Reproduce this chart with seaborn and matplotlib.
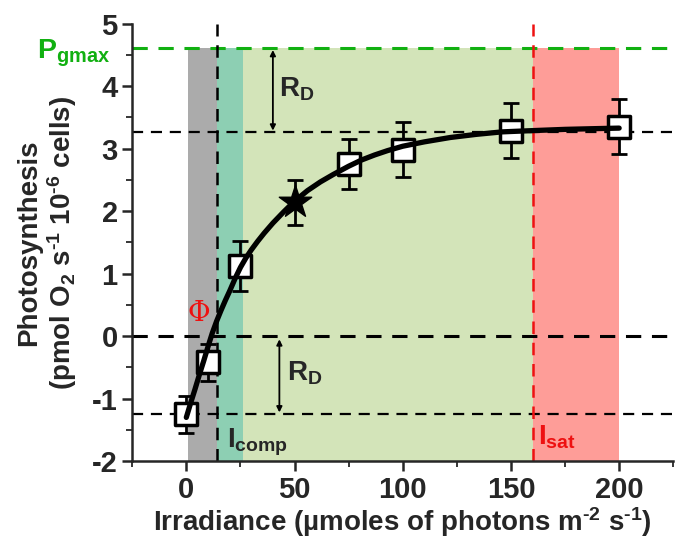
import numpy as np
import pandas as pd
import matplotlib
matplotlib.use('Agg')
import matplotlib.pyplot as plt
import seaborn as sns

# measured points (irradiance, photosynthesis, error)
irr = [0, 10, 25, 75, 100, 150, 200]
photo = [-1.25, -0.42, 1.12, 2.75, 2.98, 3.29, 3.35]
err = [0.30, 0.30, 0.40, 0.40, 0.44, 0.44, 0.44]

# star point at 50
star_irr = [50]
star_photo = [2.14]
star_err = [0.36]

# fitted curve
curve_x = [0, 2, 4, 6, 8, 10, 12, 14, 16, 18, 20, 22.5, 25, 27.5, 30, 33, 36, 40,
           45, 50, 56, 62, 68, 75, 81, 87, 93, 100, 110, 122, 134, 146, 160, 175,
           187, 200]
curve_y = [-1.30, -1.07, -0.85, -0.62, -0.40, -0.17, 0.05, 0.24, 0.41, 0.57, 0.72,
           0.92, 1.10, 1.25, 1.38, 1.52, 1.65, 1.81, 1.99, 2.16, 2.33, 2.47, 2.59,
           2.72, 2.82, 2.90, 2.97, 3.04, 3.11, 3.18, 3.23, 3.27, 3.29, 3.31, 3.32,
           3.33]

# reference levels
pgmax = 4.62
p_sat = 3.27
rd_low = -1.24
i_comp = 14
i_sat = 160

# shaded regions (start, end, colour)
span_edges = [1, 14, 26, 160, 200]
span_colors = ['#ababab', '#8dcfb3', '#d3e4b9', '#fe9d98']

sns.set_style('ticks')
plt.rcParams['font.family'] = ['Liberation Sans', 'DejaVu Sans']
plt.rcParams['font.weight'] = 'bold'
plt.rcParams['axes.unicode_minus'] = False
plt.rcParams['mathtext.fontset'] = 'custom'
plt.rcParams['mathtext.rm'] = 'Liberation Sans:bold'
plt.rcParams['mathtext.bf'] = 'Liberation Sans:bold'
plt.rcParams['mathtext.it'] = 'Liberation Sans:bold'
plt.rcParams['mathtext.default'] = 'regular'

fig = plt.figure(figsize=(6.78, 5.4), dpi=100)
ax = fig.add_axes([0.195, 0.146, 0.798, 0.81])

# background bands
for i in range(len(span_colors)):
    ax.fill_between([span_edges[i], span_edges[i + 1]], -2, pgmax,
                    color=span_colors[i], lw=0, zorder=0)

# dashed guide lines
dash = (0, (5, 3.5))
ax.axhline(pgmax, color='#11b011', ls=dash, lw=2.2, zorder=1)
ax.axhline(p_sat, color='black', ls=dash, lw=1.6, zorder=1)
ax.axhline(0, color='black', ls=dash, lw=2.2, zorder=1)
ax.axhline(rd_low, color='black', ls=dash, lw=1.6, zorder=1)
ax.axvline(i_comp, color='black', ls=dash, lw=1.8, zorder=1)
ax.axvline(i_sat, color='#ee1111', ls=dash, lw=1.8, zorder=1)

# error bars + markers
ax.errorbar(irr, photo, yerr=err, fmt='none', ecolor='black', elinewidth=2,
            capsize=6, capthick=2, zorder=3)
ax.errorbar(star_irr, star_photo, yerr=star_err, fmt='none', ecolor='black',
            elinewidth=2, capsize=6, capthick=2, zorder=3)
pts = pd.DataFrame({'x': irr, 'y': photo})
sns.scatterplot(data=pts, x='x', y='y', ax=ax, marker='s', s=260,
                facecolor='white', edgecolor='black', linewidth=2.5, zorder=4)
ax.scatter(star_irr, star_photo, marker='*', s=600, color='black', zorder=4)

# fitted curve on top of markers
curve = pd.DataFrame({'x': curve_x, 'y': curve_y})
sns.lineplot(data=curve, x='x', y='y', ax=ax, color='black', lw=3.8, zorder=5)

# RD arrows
ax.annotate('', xy=(40, pgmax - 0.04), xytext=(40, p_sat + 0.02),
            arrowprops=dict(arrowstyle='<|-|>', color='black', lw=1.3,
                            mutation_scale=8, shrinkA=0, shrinkB=0))
ax.annotate('', xy=(43, -0.05), xytext=(43, rd_low + 0.02),
            arrowprops=dict(arrowstyle='<|-|>', color='black', lw=1.3,
                            mutation_scale=8, shrinkA=0, shrinkB=0))
ax.text(43, 3.95, r'$\mathregular{R_D}$', fontsize=20, va='center', ha='left')
ax.text(46.5, -0.6, r'$\mathregular{R_D}$', fontsize=20, va='center', ha='left')

# annotations
ax.text(6, 0.36, 'Φ', color='#ee1111', fontsize=20, family='DejaVu Serif',
        fontweight='normal', ha='center', va='center')
ax.text(19, -1.7, r'$\mathregular{I_{comp}}$', fontsize=20, va='center', ha='left')
ax.text(162.5, -1.62, r'$\mathregular{I_{sat}}$', fontsize=20, va='center',
        ha='left', color='#ee1111')
ax.text(-0.176, pgmax - 0.09, r'$\mathregular{P_{gmax}}$', fontsize=20.5, color='#11b011',
        transform=ax.get_yaxis_transform(), va='center', ha='left')

# axes
ax.set_xlim(-25, 225)
ax.set_ylim(-2, 5)
ax.set_xticks([0, 50, 100, 150, 200])
ax.set_xticks(np.arange(-25, 226, 25), minor=True)
ax.set_yticks(range(-2, 6))
ax.set_yticks(np.arange(-2, 5.01, 0.5), minor=True)
ax.tick_params(axis='both', which='major', labelsize=21, width=1.8, length=7)
ax.tick_params(axis='both', which='minor', width=1.3, length=4)
sns.despine(ax=ax)
ax.spines['left'].set_linewidth(1.8)
ax.spines['bottom'].set_linewidth(1.8)

ax.set_xlabel('Irradiance (µmoles of photons m$\\mathregular{^{\u20102}}$ s$\\mathregular{^{\u20101}}$)',
              fontsize=20, fontweight='bold', labelpad=1)
ax.set_ylabel('Photosynthesis\n(pmol O$\\mathregular{_2}$ s$\\mathregular{^{\u20101}}$ 10$\\mathregular{^{\u20106}}$ cells)',
              fontsize=20, fontweight='bold', labelpad=9, linespacing=1.15)

fig.savefig('out.png', dpi=100)
